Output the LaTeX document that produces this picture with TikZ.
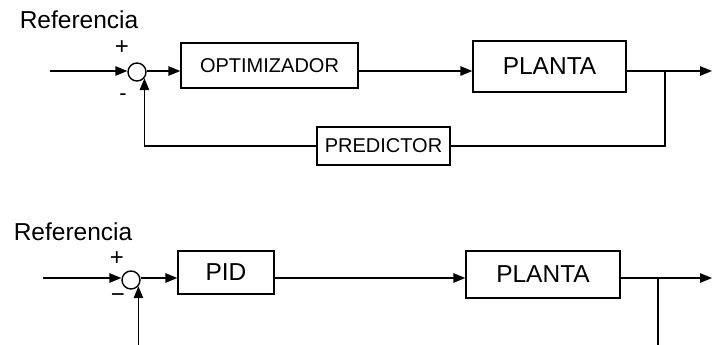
\documentclass[tikz,border=0pt]{standalone}
\usepackage{fontspec}
\setmainfont{Liberation Sans}
\usetikzlibrary{arrows.meta}
\newcommand{\tam}[1]{\fontsize{#1}{#1}\selectfont}
\begin{document}
\begin{tikzpicture}[x=1pt,y=-1pt,line width=1.4pt,
	bloque/.style={draw,rectangle,inner sep=0pt,font=\tam{24.5}},
	sumador/.style={draw,circle,minimum size=18pt,inner sep=0pt},
	flecha/.style={-{Triangle[length=12pt,width=9.5pt]}},
	signo/.style={inner sep=0pt,font=\tam{24}},
	rotulo/.style={inner sep=0pt,font=\tam{24.5}}]
	\useasboundingbox (0,0) rectangle (712,345);
	% lazo con predictor
	\node[rotulo] (ref1) at (79,20) {Referencia};
	\node[sumador] (s1) at (137,72) {};
	\node[signo] (mas1) at (122,48) {+};
	\node[signo,font=\tam{22}] (menos1) at (123,97) {-};
	\node[bloque,minimum width=177pt,minimum height=45pt,font=\tam{20}] (opt) at (269.5,65.5) {OPTIMIZADOR};
	\node[bloque,minimum width=153pt,minimum height=51pt] (pl1) at (549.5,66.5) {PLANTA};
	\node[bloque,minimum width=133pt,minimum height=38pt,font=\tam{20}] (pred) at (383.5,146) {PREDICTOR};
	\coordinate (ent1) at (50,71);
	\coordinate (rama1) at (665,71);
	\coordinate (sal1) at (712,71);
	\draw[flecha] (ent1) -- (ent1 -| s1.west);
	\draw[flecha] (s1.east |- ent1) -- (opt.west |- ent1);
	\draw[flecha] (opt.east |- ent1) -- (pl1.west |- ent1);
	\draw (pl1.east |- ent1) -- (rama1);
	\draw[flecha] (rama1) -- (sal1);
	\draw (rama1) |- (pred);
	\draw[flecha] (pred) -| (s1.-40);
	% lazo con PID
	\node[rotulo] (ref2) at (73,232) {Referencia};
	\node[signo] (mas2) at (117,259) {+};
	\node[sumador] (s2) at (131,280) {};
	\node[signo] (menos2) at (118,298) {−};
	\node[bloque,minimum width=96pt,minimum height=43pt] (pid) at (226,272.5) {PID};
	\node[bloque,minimum width=154pt,minimum height=47pt] (pl2) at (543,274.5) {PLANTA};
	\coordinate (ent2) at (43,278);
	\coordinate (rama2) at (658,278);
	\coordinate (sal2) at (712,278);
	\coordinate (pie2) at (658,345);
	\coordinate (pie1) at (s2.-40 |- pie2);
	\draw[flecha] (ent2) -- (ent2 -| s2.west);
	\draw[flecha] (s2.east |- ent2) -- (pid.west |- ent2);
	\draw[flecha] (pid.east |- ent2) -- (pl2.west |- ent2);
	\draw (pl2.east |- ent2) -- (rama2);
	\draw[flecha] (rama2) -- (sal2);
	\draw (rama2) -- (pie2);
	\draw[flecha] (pie1) -- (s2.-40);
\end{tikzpicture}
\end{document}
